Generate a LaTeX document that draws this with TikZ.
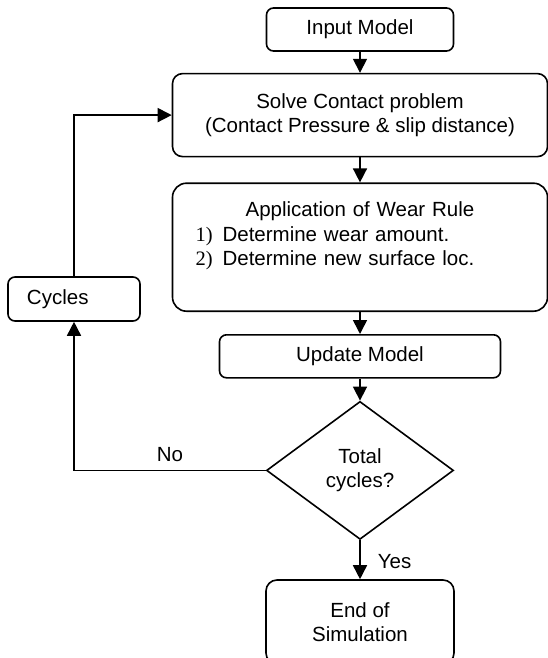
\documentclass[tikz,border=0pt]{standalone}
\usepackage{fontspec}
\setmainfont{Liberation Sans}
\newfontfamily\numfont{Liberation Serif}
\usetikzlibrary{arrows.meta, positioning, shapes.geometric}
\tikzset{
  box/.style={rectangle,draw,line width=1.6pt,rounded corners=7pt,align=center,inner sep=2pt,font=\fontsize{20.5}{24.5}\selectfont},
  decision/.style={diamond,draw,line width=1.6pt,align=center,inner sep=0pt,minimum width=187pt,minimum height=138pt,font=\fontsize{20.5}{24.5}\selectfont},
  line/.style={-{Triangle[length=14pt,width=14pt]},line width=1.6pt},
  tag/.style={inner sep=2pt,font=\fontsize{20.5}{24.5}\selectfont}
}

\begin{document}
\begin{tikzpicture}
\useasboundingbox (0pt,0pt) rectangle (548pt,-658pt);
\node[box, minimum width=187pt, minimum height=43pt] (input) at (360pt,-29.5pt) {Input Model};
\node[box, rounded corners=10pt, minimum width=375pt, minimum height=83pt, below=21pt of input] (solve) {Solve Contact problem\\(Contact Pressure \& slip distance)};
\node[box, rounded corners=14pt, minimum height=128pt, text width=329pt, inner xsep=23pt, align=left, text depth=76pt, below=25pt of solve] (wear) {\makebox[\linewidth]{Application of Wear Rule}\\{\numfont 1)}\hspace{10pt}Determine wear amount.\\{\numfont 2)}\hspace{10pt}Determine new surface loc.};
\node[box, minimum width=281pt, minimum height=43pt, below=22pt of wear] (update) {Update Model};
\node[decision, below=22pt of update] (total) {Total\\cycles?};
\node[box, rounded corners=11pt, minimum width=188pt, minimum height=84pt, below=39pt of total] (finish) {End of\\Simulation};
\node[box, minimum height=44pt, text width=94pt, inner xsep=19pt, align=left] (cycles) at (74pt,-299pt) {Cycles};
\draw[line] (input) -- (solve);
\draw[line] (solve) -- (wear);
\draw[line] (wear) -- (update);
\draw[line] (update) -- (total);
\draw[line] (total) -- node[tag, right=15pt, pos=0.55] {Yes} (finish);
\draw[line] (total.west) -| node[tag, above=6pt, pos=0.25] {No} (cycles.south);
\draw[line] (cycles.north) |- (solve.west);
\end{tikzpicture}
\end{document}
